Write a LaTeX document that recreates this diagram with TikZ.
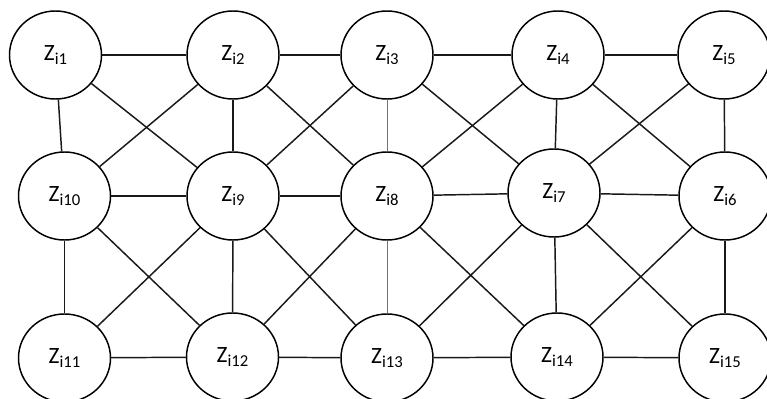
\documentclass[tikz,border=0pt]{standalone}
\usepackage{fontspec}
\setmainfont{Carlito}
\usepackage{tikz}
\usetikzlibrary{shapes.geometric}
\newcommand{\zlab}[1]{{\fontsize{17.5}{17.5}\selectfont Z}\raisebox{-2.6pt}{\fontsize{12.5}{12.5}\selectfont i#1}}

\begin{document}
\begin{tikzpicture}[
  x=0.75pt, y=-0.75pt,
  var/.style={draw, ellipse, line width=1.1pt, fill=white, inner sep=0pt,
              minimum width=69pt, minimum height=66pt},
  lnk/.style={line width=1.1pt, black!90},
  thin lnk/.style={line width=0.7pt, black!55}]
  \useasboundingbox (0,0) rectangle (767,399);
  % top row
  \node[var] (z1) at (55.5,55) {\zlab{1}};
  \node[var] (z2) at (233,55) {\zlab{2}};
  \node[var] (z3) at (387,55) {\zlab{3}};
  \node[var] (z4) at (558,55) {\zlab{4}};
  \node[var] (z5) at (724,55) {\zlab{5}};
  % middle row
  \node[var] (z10) at (64.5,196) {\zlab{10}};
  \node[var] (z9) at (233,196) {\zlab{9}};
  \node[var] (z8) at (387,196) {\zlab{8}};
  \node[var] (z7) at (554,193) {\zlab{7}};
  \node[var] (z6) at (725,196) {\zlab{6}};
  % bottom row
  \node[var] (z11) at (64.5,358) {\zlab{11}};
  \node[var] (z12) at (232.5,357) {\zlab{12}};
  \node[var] (z13) at (387,358) {\zlab{13}};
  \node[var] (z14) at (557,357) {\zlab{14}};
  \node[var] (z15) at (725,358) {\zlab{15}};
  % horizontal links
  \draw[lnk] (z1) -- (z2);
  \draw[lnk] (z2) -- (z3);
  \draw[lnk] (z3) -- (z4);
  \draw[lnk] (z4) -- (z5);
  \draw[lnk] (z10) -- (z9);
  \draw[lnk] (z9) -- (z8);
  \draw[lnk] (z8) -- (z7);
  \draw[lnk] (z7) -- (z6);
  \draw[lnk] (z11) -- (z12);
  \draw[lnk] (z12) -- (z13);
  \draw[lnk] (z13) -- (z14);
  \draw[lnk] (z14) -- (z15);
  % vertical links
  \draw[lnk] (z1) -- (z10);
  \draw[lnk] (z2) -- (z9);
  \draw[thin lnk] (z3) -- (z8);
  \draw[lnk] (z4) -- (z7);
  \draw[lnk] (z5) -- (z6);
  \draw[lnk] (z10) -- (z11);
  \draw[lnk] (z9) -- (z12);
  \draw[thin lnk] (z8) -- (z13);
  \draw[lnk] (z7) -- (z14);
  \draw[lnk] (z6) -- (z15);
  % diagonal links
  \draw[lnk] (z1) -- (z9);
  \draw[lnk] (z2) -- (z10);
  \draw[lnk] (z2) -- (z8);
  \draw[lnk] (z3) -- (z9);
  \draw[lnk] (z3) -- (z7);
  \draw[lnk] (z4) -- (z8);
  \draw[lnk] (z4) -- (z6);
  \draw[lnk] (z5) -- (z7);
  \draw[lnk] (z10) -- (z12);
  \draw[lnk] (z9) -- (z11);
  \draw[lnk] (z9) -- (z13);
  \draw[lnk] (z8) -- (z12);
  \draw[lnk] (z8) -- (z14);
  \draw[lnk] (z7) -- (z13);
  \draw[lnk] (z7) -- (z15);
  \draw[lnk] (z6) -- (z14);
\end{tikzpicture}
\end{document}
